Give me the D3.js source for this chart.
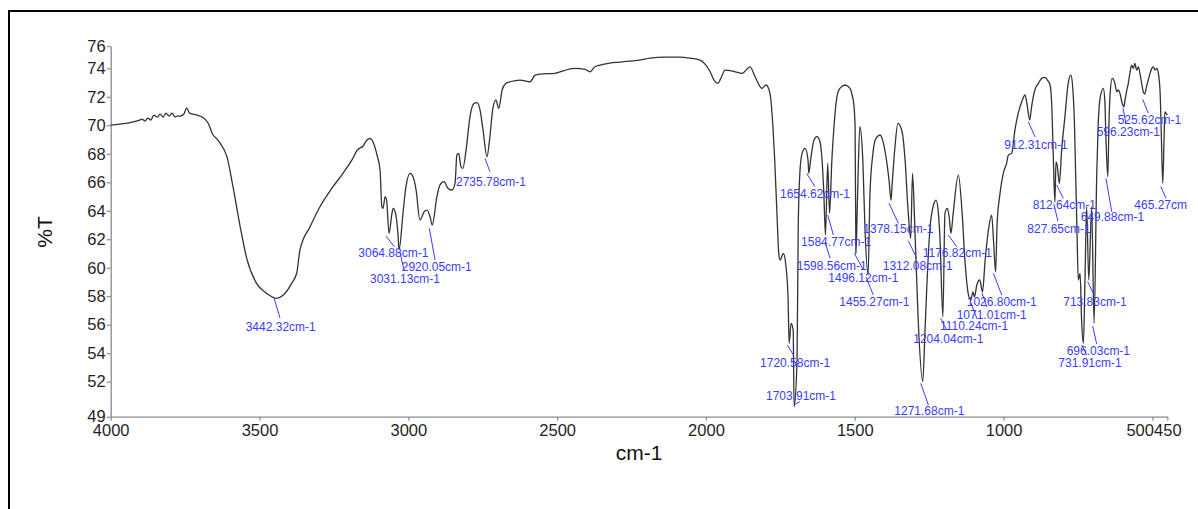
<!DOCTYPE html>
<html>
<head>
<meta charset="utf-8">
<script src="https://cdn.jsdelivr.net/npm/d3@7"></script>
<style>
  html, body { margin: 0; padding: 0; background: #fff; }
  svg { display: block; font-family: "Liberation Sans", Arial, sans-serif; }
</style>
</head>
<body>
<svg id="chart" width="1198" height="509"></svg>
<script>
// ---------- data ----------
const wavenumbers = [4000,3902,3895,3885,3875,3865,3855,3844,3834,3824,3814,3804,3794,3784,3777,3767,3754,3745,3735,3710,3690,3673,3656,3646,3633,3609,3589,3566,3543,3510,3476,3442.32,3420,3392,3375,3364,3330,3297,3253,3219,3186,3172,3152,3139,3129,3119,3105,3095,3089,3085,3078,3073,3064.88,3055,3051,3043,3035,3031.13,3018,3008,2994,2984,2974,2961,2947,2937,2927,2920.05,2904,2894,2880,2867,2854,2843,2837,2831,2823,2817,2806,2793,2779,2769,2759,2749,2735.78,2726,2716,2706,2696,2685,2672,2658,2625,2591,2574,2558,2507,2490,2440,2406,2390,2373,2356,2323,2289,2255,2222,2188,2138,2087,2054,2020,2003,1986,1973,1960,1950,1936,1902,1879,1852,1835,1812,1798,1785,1775,1769,1762,1755,1751,1740,1731,1724,1720.58,1714,1707,1703.91,1694,1690,1684,1677,1667,1657,1654.62,1647,1637,1627,1617,1610,1604,1598.56,1591,1584.77,1577,1570,1560,1550,1533,1516,1509,1503,1499,1496.12,1491,1483,1473,1466,1455.27,1449,1439,1429,1415,1405,1392,1385,1378.15,1375,1365,1355,1341,1331,1321,1312.08,1306,1298,1287,1271.68,1264,1258,1247,1237,1227,1220,1214,1204.04,1197,1189,1183,1176.82,1170,1152,1140,1130,1118,1110.24,1103,1098,1090,1080,1071.01,1062,1051,1040,1034,1026.80,1022,1012,1001,990,984,973,962,951,939,928,920,912.31,906,895,883,872,861,853,844,838,833,827.65,824,820,812.64,805,794,783,774,768,762,758,754,749,743,738,731.91,727,721,713.83,704,696.03,687,682,676,665,660,656,649.88,646,642,635,626,620,615,609,603,596.23,592,586,581,575,570,564,559,553,547,542,536,531,525.62,520,514,508,502,497,491,485,480,474,471,465.27,461,458,454,450];
const transmittance = [70.02,70.37,70.44,70.30,70.51,70.37,70.72,70.58,70.79,70.58,70.86,70.65,70.86,70.58,70.65,70.65,70.79,71.23,70.86,70.72,70.55,70.16,69.32,69.10,68.76,67.77,65.67,63.00,60.66,58.90,58.20,57.85,58.08,58.90,59.63,61.25,62.88,64.28,65.69,66.65,67.70,68.26,68.55,68.97,69.09,68.85,67.90,66.86,64.28,64.17,64.99,64.75,62.42,63.82,64.17,63.82,62.42,61.25,63.82,65.69,66.63,66.39,65.46,63.35,63.93,64.05,63.58,63.00,64.99,65.80,66.04,65.58,65.46,65.93,67.91,68.03,67.09,66.98,68.26,70.60,71.54,71.59,71.07,69.67,67.79,69.20,71.19,71.77,71.19,72.48,72.95,73.06,73.18,73.06,73.53,73.60,73.65,73.76,74.00,73.93,73.76,74.11,74.23,74.37,74.44,74.51,74.58,74.72,74.79,74.79,74.72,74.58,74.30,73.76,73.18,72.95,73.30,73.88,73.76,73.65,74.11,73.41,72.60,72.83,72.24,69.90,67.56,64.05,60.90,60.54,61.00,60.07,57.73,54.69,56.10,55.63,50.24,53.52,62.88,66.86,68.03,68.38,67.56,66.63,67.79,68.97,69.20,68.85,67.56,65.22,62.30,67.33,63.82,67.56,69.90,72.00,72.60,72.83,72.60,72.13,71.42,69.90,61.00,64.75,69.90,67.56,62.88,59.49,65.22,68.03,69.09,69.32,68.85,67.33,66.16,64.75,65.69,68.50,70.14,69.55,67.56,64.05,62.07,66.63,62.65,56.33,52.00,55.63,58.67,62.88,64.28,64.75,64.05,62.18,56.56,63.82,64.17,63.58,62.42,63.70,66.50,64.05,60.54,58.09,57.73,58.30,57.95,58.79,59.14,58.30,60.54,62.65,63.70,61.95,59.70,63.00,65.22,66.63,67.33,67.91,68.03,69.67,70.84,71.66,72.13,71.30,70.37,71.30,72.48,72.95,73.30,73.37,73.18,72.83,71.30,67.79,64.61,67.44,67.21,65.93,68.26,70.60,72.95,73.53,72.71,70.14,66.63,63.12,59.14,59.60,56.33,54.69,58.67,64.28,59.14,64.28,56.10,66.63,70.14,71.89,72.60,71.77,68.97,66.39,70.14,72.24,73.30,72.95,72.36,72.48,72.24,71.66,71.30,71.77,72.48,72.95,73.76,74.23,74.00,74.35,73.88,74.11,73.65,72.95,72.36,72.20,72.70,73.18,73.65,74.00,74.11,73.88,74.00,73.65,72.24,70.14,65.93,68.97,70.95,70.84,70.72];

const peakWavenumbers = [3442.32,3064.88,3031.13,2920.05,2735.78,1720.58,1703.91,1654.62,1598.56,1584.77,1496.12,1455.27,1378.15,1312.08,1271.68,1204.04,1176.82,1110.24,1071.01,1026.80,912.31,827.65,812.64,731.91,713.83,696.03,649.88,596.23,525.62,465.27];

const xTickValues = [4000,3500,3000,2500,2000,1500,1000,500,450];
const yTickValues = [52,54,56,58,60,62,64,66,68,70,72,74];
const yEndLabels = ["49","76"];
const xDomain = [4000, 450];
const yDomain = [49.54, 75.57];
const xTitle = "cm-1";
const yTitle = "%T";
const peakSuffix = "cm-1";

// ---------- layout (pixel offsets of annotation leader lines and texts, relative to the peak) ----------
// [line x1, line y1, line x2, line y2, text x, text y]
const labelLayout = [
  [-2.7,-0.4,3.3,19.6,-31,28.3],
  [-3,2.7,5.3,13.4,-30.7,20],
  [0.9,2.1,4.9,20.1,-29.1,28.4],
  [-2.8,3.3,2.9,35,-30.4,41.7],
  [-2,1.5,3,14.9,-31,24.9],
  [-1.8,1.6,4.2,11.6,-29.1,19.3],
  [-0.1,-1.8,5.9,-5.1,-28.1,-11.1],
  [-2.1,0,6.2,13.4,-28.8,20],
  [-0.4,6.7,4.6,23.3,-28.7,30.7],
  [-1.8,1.7,3.8,21.7,-28.5,28.4],
  [-1.6,-0.2,7.4,16.5,-27.6,24.8],
  [-2.1,2,5.2,20,-28.8,26.7],
  [-2,3.2,7.3,23.2,-27.7,29.2],
  [-2.4,2.5,6,20.1,-28,27.5],
  [-2,1.6,5.6,23.3,-28.4,29],
  [-2.2,1.6,3.8,13.3,-29.6,21.6],
  [-2.7,1.7,5.7,13.4,-28.3,20],
  [0.2,2.9,6.2,18.9,-30.8,25.9],
  [-0.5,1.1,4.5,15.1,-25.8,23.1],
  [-2.3,1.3,6.1,23,-28.9,29.7],
  [-1.4,1.7,5.3,16.7,-25.4,25],
  [-1,2,3,19,-27.6,27.2],
  [-2.7,1.7,3.9,15,-26.7,21.7],
  [-1.7,1.6,3.3,11.6,-25.1,19.3],
  [-1.1,1.7,5.2,15,-25.5,21.7],
  [-1.4,2.7,2.6,20.7,-27.4,27.4],
  [-1.8,1.6,3.9,35,-27.1,40],
  [-0.8,1.2,2.2,17,-27.1,24.9],
  [-2.1,5.3,3.5,19.3,-27.1,26],
  [-2,3.4,3.3,15,-28.4,21.7]
];

// ---------- drawing ----------
const svg = d3.select("#chart");
const W = 1198, H = 509;
const plot = { left: 110.7, right: 1167.3, top: 46, bottom: 416.7 };

svg.append("rect").attr("width", W).attr("height", H).attr("fill", "#fff");

// clip for annotations (the reference cuts labels near the right edge)
svg.append("defs").append("clipPath").attr("id", "annClip")
  .append("rect").attr("x", 0).attr("y", 0).attr("width", 1188).attr("height", H);

// outer frame (top and left edges visible)
svg.append("line").attr("x1", 9).attr("y1", 11).attr("x2", W + 2).attr("y2", 11)
  .attr("stroke", "#000").attr("stroke-width", 2);
svg.append("line").attr("x1", 9).attr("y1", 10).attr("x2", 9).attr("y2", H + 2)
  .attr("stroke", "#000").attr("stroke-width", 2);

const x = d3.scaleLinear().domain(xDomain).range([plot.left, plot.right]);
const y = d3.scaleLinear().domain(yDomain).range([plot.bottom, plot.top]);

const axisColor = "#8a8a8a";
const tickTextColor = "#1f1f1f";

// x axis
const xAxis = d3.axisBottom(x).tickValues(xTickValues).tickFormat(d3.format("d"))
  .tickSize(4).tickSizeOuter(0).tickPadding(4);
const gx = svg.append("g").attr("transform", `translate(0,${plot.bottom})`).call(xAxis);
gx.select(".domain").attr("stroke", axisColor).attr("stroke-width", 1.3);
gx.selectAll(".tick line").attr("stroke", axisColor).attr("stroke-width", 1.2);
gx.selectAll(".tick text").attr("fill", tickTextColor).style("font-size", "16.5px")
  .style("font-family", '"Liberation Sans", Arial, sans-serif');
// the last-but-one label sits just left of the end label, as in the reference
gx.selectAll(".tick text").filter(d => d === xTickValues[xTickValues.length - 2])
  .attr("text-anchor", "end").attr("x", 1);

// y axis
const yAll = [yDomain[0]].concat(yTickValues, [yDomain[1]]);
const yAxis = d3.axisLeft(y).tickValues(yAll)
  .tickFormat(d => d === yDomain[0] ? yEndLabels[0] : d === yDomain[1] ? yEndLabels[1] : String(d))
  .tickSize(4).tickSizeOuter(0).tickPadding(1);
const gy = svg.append("g").attr("transform", `translate(${plot.left},0)`).call(yAxis);
gy.select(".domain").attr("stroke", axisColor).attr("stroke-width", 1.3);
gy.selectAll(".tick line").attr("stroke", axisColor).attr("stroke-width", 1.2);
gy.selectAll(".tick text").attr("fill", tickTextColor).style("font-size", "16.5px")
  .style("font-family", '"Liberation Sans", Arial, sans-serif');

// axis titles
svg.append("text").attr("x", (plot.left + plot.right) / 2).attr("y", 453).attr("dy", "0.35em")
  .attr("text-anchor", "middle").attr("fill", "#111").style("font-size", "21px").text(xTitle);
svg.append("text").attr("transform", "translate(45,232) rotate(-90)").attr("dy", "0.35em")
  .attr("text-anchor", "middle").attr("fill", "#111").style("font-size", "21px").text(yTitle);

// spectrum line
const points = wavenumbers.map((w, i) => ({ w, t: transmittance[i] }));
const line = d3.line().x(d => x(d.w)).y(d => y(d.t)).curve(d3.curveMonotoneX);
svg.append("path").datum(points.slice().reverse())
  .attr("d", line).attr("fill", "none").attr("stroke", "#333").attr("stroke-width", 1.3)
  .attr("stroke-linejoin", "round");

// peak annotations
const peakColor = "#3b3bff";
const gp = svg.append("g").attr("clip-path", "url(#annClip)");
peakWavenumbers.forEach((pw, i) => {
  const idx = d3.minIndex(wavenumbers, w => Math.abs(w - pw));
  const px = x(pw), py = y(transmittance[idx]);
  const L = labelLayout[i];
  gp.append("line").attr("x1", px + L[0]).attr("y1", py + L[1]).attr("x2", px + L[2]).attr("y2", py + L[3])
    .attr("stroke", peakColor).attr("stroke-width", 1);
  gp.append("text").attr("x", px + L[4]).attr("y", py + L[5]).attr("dy", "0.35em")
    .attr("fill", peakColor).style("font-size", "12px").text(pw.toFixed(2) + peakSuffix);
});
</script>
</body>
</html>
